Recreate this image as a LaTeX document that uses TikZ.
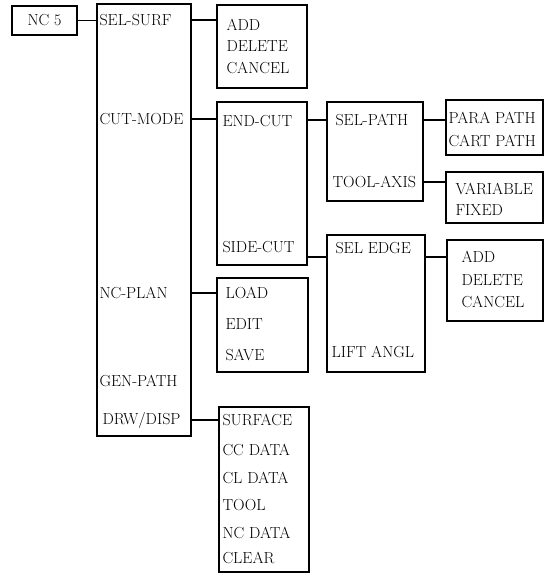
\documentclass[tikz,border=0pt]{standalone}
\usepackage{tikz}

\tikzset{
  menubox/.style={draw, rectangle, line width=1.1pt},
  item/.style={anchor=west, inner sep=0pt, font=\fontsize{16}{18}\selectfont}
}

\begin{document}
\begin{tikzpicture}[x=1pt, y=-1pt, line width=1.1pt]
\useasboundingbox (0,0) rectangle (550,574);
% Boxes
\node[menubox, minimum width=65pt, minimum height=29pt, font=\fontsize{16}{18}\selectfont] (nc) at (44.5,20.5) {NC 5};
\node[menubox, minimum width=94pt, minimum height=432pt] (menu) at (144,220) {};
\node[menubox, minimum width=90pt, minimum height=83pt] (surf) at (262,46.5) {};
\node[menubox, minimum width=90pt, minimum height=163pt] (cut) at (262,183.5) {};
\node[menubox, minimum width=96pt, minimum height=99pt] (path) at (375,151.5) {};
\node[menubox, minimum width=97pt, minimum height=55pt] (pathtype) at (494.5,127.5) {};
\node[menubox, minimum width=97pt, minimum height=51pt] (axis) at (494.5,197.5) {};
\node[menubox, minimum width=98pt, minimum height=137pt] (edge) at (376,303.5) {};
\node[menubox, minimum width=96pt, minimum height=81pt] (edgeops) at (495,280.5) {};
\node[menubox, minimum width=91pt, minimum height=94pt] (plan) at (262.5,325) {};
\node[menubox, minimum width=90pt, minimum height=165pt] (disp) at (264,489.5) {};

% Menu items
\node[item] (selsurf) at (99,20) {SEL-SURF};
\node[item] (cutmode) at (99,119) {CUT-MODE};
\node[item] (ncplan) at (99,293) {NC-PLAN};
\node[item] (genpath) at (99,381) {GEN-PATH};
\node[item] (drwdisp) at (102,420) {DRW/DISP};

\node[item] (add) at (226,25) {ADD};
\node[item] (delete) at (226,46) {DELETE};
\node[item] (cancel) at (226,68) {CANCEL};

\node[item] (endcut) at (222,121) {END-CUT};
\node[item] (sidecut) at (222,247) {SIDE-CUT};

\node[item] (selpath) at (335,120) {SEL-PATH};
\node[item] (toolaxis) at (332,182) {TOOL-AXIS};

\node[item] (parapath) at (448,118) {PARA PATH};
\node[item] (cartpath) at (448,141) {CART PATH};

\node[item] (variable) at (455,189) {VARIABLE};
\node[item] (fixed) at (455,210) {FIXED};

\node[item] (seledge) at (335,248) {SEL EDGE};
\node[item] (liftangl) at (331,352) {LIFT ANGL};

\node[item] (addedge) at (461,257) {ADD};
\node[item] (deleteedge) at (461,280) {DELETE};
\node[item] (canceledge) at (461,302) {CANCEL};

\node[item] (load) at (225,293) {LOAD};
\node[item] (edit) at (225,324) {EDIT};
\node[item] (save) at (225,355) {SAVE};

\node[item] (surface) at (222,420) {SURFACE};
\node[item] (ccdata) at (222,450) {CC DATA};
\node[item] (cldata) at (222,478) {CL DATA};
\node[item] (tool) at (222,505) {TOOL};
\node[item] (ncdata) at (222,533) {NC DATA};
\node[item] (clear) at (222,558) {CLEAR};

% Links
\draw (nc.east) -- (menu.west |- nc.east);
\draw (menu.east |- selsurf) -- (surf.west |- selsurf);
\draw (menu.east |- cutmode) -- (cut.west |- cutmode);
\draw (menu.east |- ncplan) -- (plan.west |- ncplan);
\draw (menu.east |- drwdisp) -- (disp.west |- drwdisp);
\draw (cut.east |- selpath) -- (path.west |- selpath);
\draw (path.east |- selpath) -- (pathtype.west |- selpath);
\draw (path.east |- toolaxis) -- (axis.west |- toolaxis);
\draw (cut.east |- addedge) -- (edge.west |- addedge);
\draw (edge.east |- addedge) -- (edgeops.west |- addedge);

\end{tikzpicture}
\end{document}
